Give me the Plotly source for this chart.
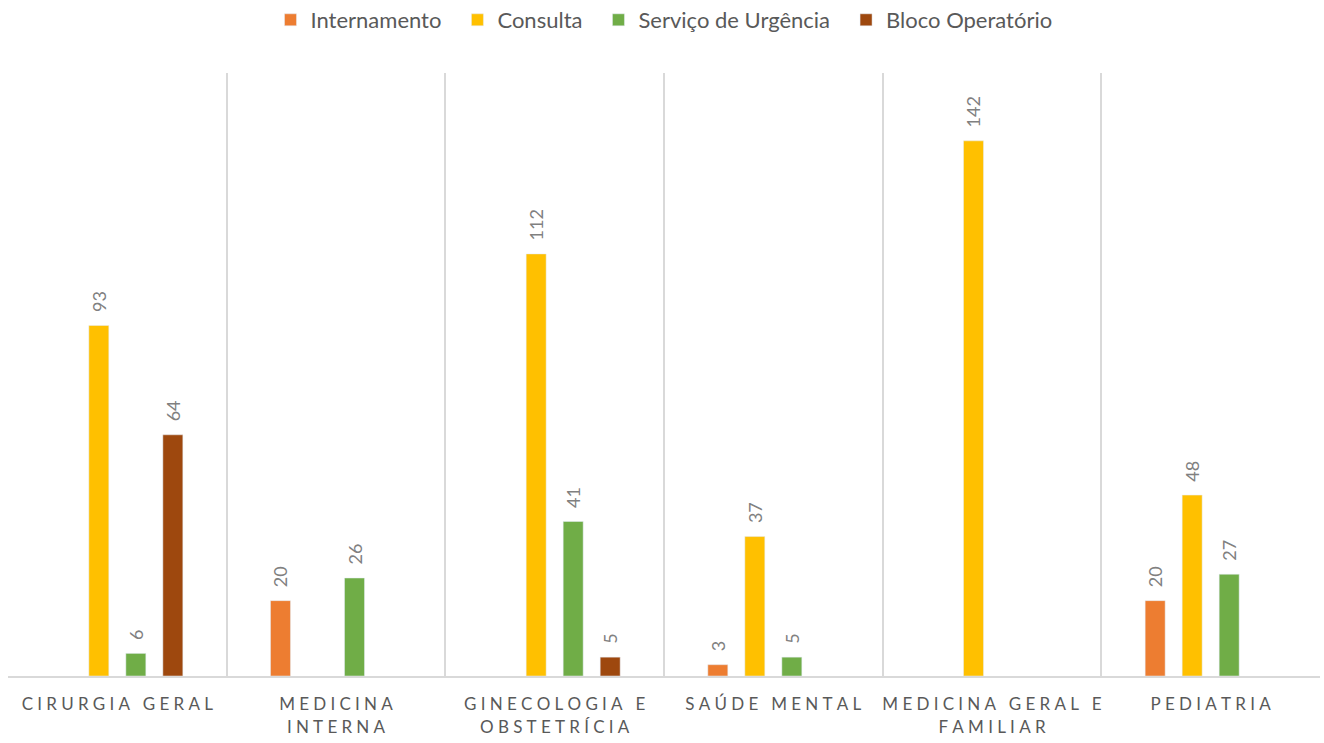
import plotly.graph_objects as go

categories = ["CIRURGIA GERAL", "MEDICINA|INTERNA", "GINECOLOGIA E|OBSTETRÍCIA",
              "SAÚDE MENTAL", "MEDICINA GERAL E|FAMILIAR", "PEDIATRIA"]
internamento = [None, 20, None, 3, None, 20]
consulta = [93, None, 112, 37, 142, 48]
urgencia = [6, 26, 41, 5, None, 27]
bloco = [64, None, 5, None, None, None]

series = [
    ("Internamento", internamento, "#ED7D31"),
    ("Consulta", consulta, "#FFC000"),
    ("Serviço de Urgência", urgencia, "#70AD47"),
    ("Bloco Operatório", bloco, "#9E480E"),
]

SP = "\u2005"
WSP = "\u2005\u00a0\u2005"


def spaced(label):
    lines = []
    for line in label.split("|"):
        words = [SP.join(list(w)) for w in line.split(" ")]
        lines.append(WSP.join(words))
    return "<br>".join(lines)


xlabels = [spaced(c) for c in categories]

fig = go.Figure()
for i, (name, vals, color) in enumerate(series):
    fig.add_trace(go.Bar(
        name=name + ("\u2002" if i < len(series) - 1 else ""),
        x=xlabels, y=vals, marker_color=color,
        text=["\u2007" + str(v) if v is not None else "" for v in vals],
        textposition="outside", textangle=-90, constraintext="none",
        cliponaxis=False,
        textfont=dict(color="#808080", size=18),
    ))

fig.update_layout(
    barmode="group", bargap=0.323, bargroupgap=0.46,
    width=1324, height=743,
    margin=dict(l=8, r=4, t=73, b=67),
    paper_bgcolor="white", plot_bgcolor="white",
    font=dict(family="Lato, 'Open Sans', sans-serif", color="#595959"),
    legend=dict(orientation="h", x=0.5, xanchor="center",
                yref="container", y=1 - 20 / 743, yanchor="middle",
                font=dict(size=22, color="#595959"), itemwidth=30, traceorder="normal"),
    showlegend=True,
)
fig.update_xaxes(
    tickson="boundaries", showgrid=True, gridcolor="#D9D9D9", gridwidth=2,
    showline=True, linecolor="#D9D9D9", linewidth=2, ticks="",
    tickangle=0, automargin=False, ticklabelstandoff=12,
    tickfont=dict(size=17, color="#595959"),
)
fig.update_yaxes(range=[0, 160], visible=False, showgrid=False)

fig.write_html("out.html", post_script="document.body.style.margin='0';",
               config={"displayModeBar": False})
